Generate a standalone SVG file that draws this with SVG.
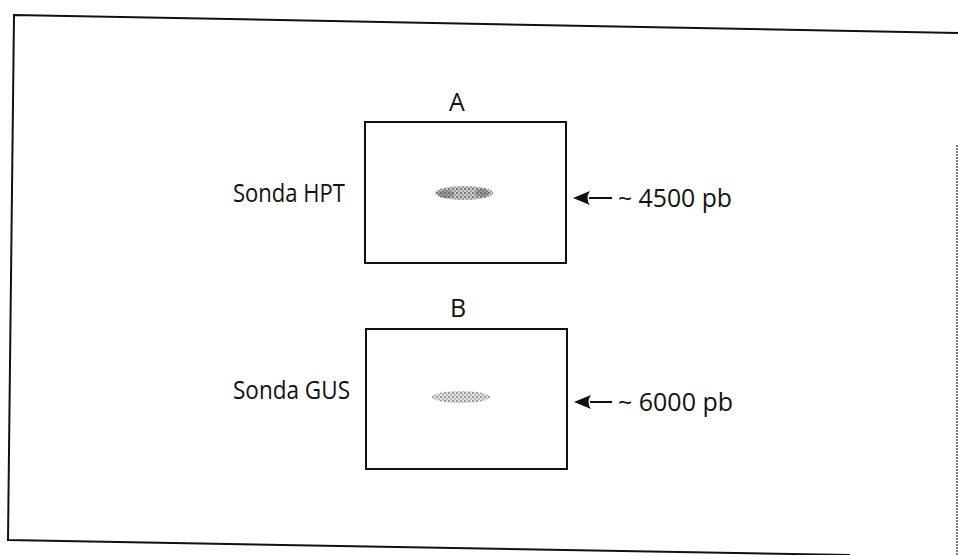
<svg xmlns="http://www.w3.org/2000/svg" width="958" height="555" viewBox="0 0 958 555">
<style>
.frame{fill:none;stroke:#111;stroke-width:2}
.box{fill:#fff;stroke:#111;stroke-width:2}
.lbl{font-family:"Open Sans","Noto Sans",sans-serif;font-size:25px;fill:#111}
.conn{stroke:#111;stroke-width:2;fill:none}
</style>
<defs>
<marker id="ah" viewBox="0 0 17 16" refX="1" refY="8" markerWidth="17" markerHeight="16" markerUnits="userSpaceOnUse" orient="auto-start-reverse">
<path d="M17,8 L0,1 Q5,8 0,15 Z" fill="#111"/>
</marker>
<pattern id="speck" width="4" height="4" patternUnits="userSpaceOnUse">
<rect width="4" height="4" fill="#d0d0d0"/>
<rect x="0" y="0" width="2" height="2" fill="#7a7a7a"/>
<rect x="2" y="2" width="2" height="2" fill="#a0a0a0"/>
</pattern>
<pattern id="speckB" width="4" height="4" patternUnits="userSpaceOnUse">
<rect width="4" height="4" fill="#e4e4e4"/>
<rect x="0" y="0" width="2" height="2" fill="#9a9a9a"/>
<rect x="2" y="2" width="2" height="2" fill="#bcbcbc"/>
</pattern>
</defs>
<rect width="958" height="555" fill="#fff"/>
<g id="frame">
<path class="frame" d="M958,33 L14,15 L8,540 L850,555"/>
<line x1="957" y1="145" x2="957" y2="555" stroke="#555" stroke-width="1.5" stroke-dasharray="2 1"/>
</g>
<g id="blotA">
<text class="lbl" x="457" y="111" text-anchor="middle">A</text>
<rect class="box" x="365" y="122" width="201" height="141"/>
<ellipse cx="464" cy="193" rx="29" ry="7" fill="url(#speck)"/>
<ellipse cx="446" cy="194" rx="8" ry="4" fill="#666" opacity="0.5"/>
<ellipse cx="482" cy="193" rx="7" ry="4" fill="#666" opacity="0.5"/>
</g>
<g id="blotB">
<text class="lbl" x="458" y="317" text-anchor="middle">B</text>
<rect class="box" x="366" y="329" width="201" height="140"/>
<ellipse cx="461" cy="397" rx="29" ry="6" fill="url(#speckB)"/>
</g>
<g id="labelHPT"><text class="lbl" x="233" y="202" textLength="112" lengthAdjust="spacingAndGlyphs">Sonda HPT</text></g>
<g id="labelGUS"><text class="lbl" x="233" y="399" textLength="117" lengthAdjust="spacingAndGlyphs">Sonda GUS</text></g>
<g id="size4500"><text class="lbl" x="618" y="207" textLength="114" lengthAdjust="spacingAndGlyphs">~ 4500 pb</text></g>
<g id="size6000"><text class="lbl" x="618" y="411" textLength="115" lengthAdjust="spacingAndGlyphs">~ 6000 pb</text></g>
<g id="connectors">
<line class="conn" x1="612" y1="198" x2="589" y2="198" marker-end="url(#ah)"/>
<line class="conn" x1="612" y1="402" x2="590" y2="402" marker-end="url(#ah)"/>
</g>
</svg>
